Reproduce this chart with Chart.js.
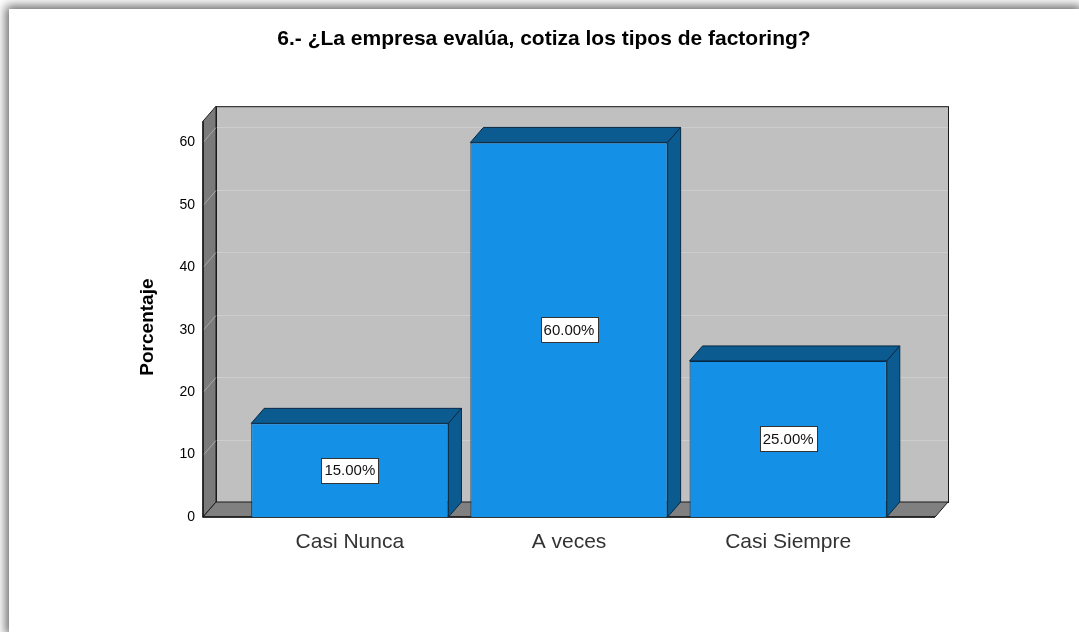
<!DOCTYPE html>
<html>
<head>
<meta charset="utf-8">
<script src="https://cdn.jsdelivr.net/npm/chart.js@4"></script>
<style>
  body { margin: 0; background: #fff; overflow: hidden; }
  #frame {
    position: absolute; left: 9px; top: 9px;
    width: 1070px; height: 623px;
    background: #fff;
    box-shadow: 0 0 10px 3px rgba(0,0,0,0.62);
  }
</style>
</head>
<body>
<div id="frame"><canvas id="factoringChart" width="1070" height="623"></canvas></div>
<script>

var categories = ['Casi Nunca', 'A veces', 'Casi Siempre'];
var percents = [15, 60, 25];
var yMax = 63.4;
var yStep = 10;
var yTitle = 'Porcentaje';

// 3d depth of walls and bars
var DX = 13, DY = -15;

var FONT = "'Liberation Sans', Arial, sans-serif";

var walls3d = {
  id: 'walls3d',
  beforeDatasetsDraw(chart) {
    var ctx = chart.ctx, a = chart.chartArea, y = chart.scales.y;
    ctx.save();
    ctx.lineWidth = 1;
    ctx.strokeStyle = '#1a1a1a';

    // back wall
    ctx.fillStyle = '#c0c0c0';
    ctx.fillRect(a.left + DX, a.top + DY, a.right - a.left, a.bottom - a.top);
    ctx.strokeRect(a.left + DX + 0.5, a.top + DY + 0.5, a.right - a.left, a.bottom - a.top);

    // left side wall
    ctx.fillStyle = '#7a7a7a';
    ctx.beginPath();
    ctx.moveTo(a.left, a.top);
    ctx.lineTo(a.left + DX, a.top + DY);
    ctx.lineTo(a.left + DX, a.bottom + DY);
    ctx.lineTo(a.left, a.bottom);
    ctx.closePath();
    ctx.fill();
    ctx.stroke();

    // grid lines on back and side walls
    y.ticks.forEach(function (t) {
      if (t.value <= 0) return;
      var py = Math.round(y.getPixelForValue(t.value)) + 0.5;
      ctx.strokeStyle = '#cdcdcd';
      ctx.beginPath();
      ctx.moveTo(a.left + DX + 1, py + DY);
      ctx.lineTo(a.right + DX, py + DY);
      ctx.stroke();
      ctx.strokeStyle = '#a8a8a8';
      ctx.beginPath();
      ctx.moveTo(a.left, py);
      ctx.lineTo(a.left + DX, py + DY);
      ctx.stroke();
    });

    // floor
    ctx.strokeStyle = '#1a1a1a';
    ctx.fillStyle = '#808080';
    ctx.beginPath();
    ctx.moveTo(a.left, a.bottom);
    ctx.lineTo(a.left + DX, a.bottom + DY);
    ctx.lineTo(a.right + DX, a.bottom + DY);
    ctx.lineTo(a.right, a.bottom);
    ctx.closePath();
    ctx.fill();
    ctx.stroke();

    // front axis lines
    ctx.lineWidth = 1.5;
    ctx.beginPath();
    ctx.moveTo(a.left, a.top);
    ctx.lineTo(a.left, a.bottom);
    ctx.lineTo(a.right, a.bottom);
    ctx.stroke();
    ctx.restore();
  },
  afterDatasetsDraw(chart) {
    var ctx = chart.ctx;
    var meta = chart.getDatasetMeta(0);
    ctx.save();
    meta.data.forEach(function (bar, i) {
      var p = bar.getProps(['x', 'y', 'base', 'width'], true);
      var l = p.x - p.width / 2, r = p.x + p.width / 2;
      ctx.fillStyle = '#0b5a90';
      ctx.strokeStyle = '#0a2a44';
      ctx.lineWidth = 1;
      // top face
      ctx.beginPath();
      ctx.moveTo(l, p.y);
      ctx.lineTo(l + DX, p.y + DY);
      ctx.lineTo(r + DX, p.y + DY);
      ctx.lineTo(r, p.y);
      ctx.closePath();
      ctx.fill();
      ctx.stroke();
      // side face
      ctx.beginPath();
      ctx.moveTo(r, p.y);
      ctx.lineTo(r + DX, p.y + DY);
      ctx.lineTo(r + DX, p.base + DY);
      ctx.lineTo(r, p.base);
      ctx.closePath();
      ctx.fill();
      ctx.stroke();

      // value label
      var txt = percents[i].toFixed(2) + '%';
      ctx.font = '15px ' + FONT;
      var w = Math.round(ctx.measureText(txt).width + 6), h = 25;
      var cy = (p.y + p.base) / 2;
      var bx = Math.round(p.x - w / 2) + 0.5, by = Math.round(cy - h / 2) + 0.5;
      ctx.fillStyle = '#ffffff';
      ctx.fillRect(bx, by, w, h);
      ctx.strokeStyle = '#333333';
      ctx.strokeRect(bx, by, w, h);
      ctx.fillStyle = '#111111';
      ctx.textAlign = 'center';
      ctx.textBaseline = 'middle';
      ctx.fillText(txt, p.x, cy + 1);
    });
    ctx.restore();
  },
  afterDraw(chart) {
    // rotated axis title, left of the side wall
    var ctx = chart.ctx, a = chart.chartArea;
    ctx.save();
    ctx.translate(a.left - 55, (a.top + a.bottom) / 2 + 8);
    ctx.rotate(-Math.PI / 2);
    ctx.font = 'bold 19px ' + FONT;
    ctx.fillStyle = '#000';
    ctx.textAlign = 'center';
    ctx.textBaseline = 'middle';
    ctx.fillText(yTitle, 0, 0);
    ctx.restore();
  }
};

new Chart('factoringChart', {
  type: 'bar',
  data: {
    datasets: [{
      data: percents.map(function (v, i) { return { x: i, y: v }; }),
      backgroundColor: '#1490e6',
      borderColor: '#0a2a44',
      borderWidth: 1,
      barPercentage: 0.9,
      categoryPercentage: 1
    }]
  },
  options: {
    responsive: false,
    animation: false,
    layout: { padding: 0 },
    plugins: {
      legend: { display: false },
      tooltip: { enabled: false },
      title: {
        display: true,
        text: '6.- ¿La empresa evalúa, cotiza los tipos de factoring?',
        color: '#000',
        font: { family: FONT, size: 21, weight: 'bold' },
        padding: { top: 18, bottom: 69 }
      }
    },
    scales: {
      x: {
        type: 'linear',
        offset: false,
        min: -0.67,
        max: 2.67,
        grid: { display: false, drawTicks: false },
        border: { display: false },
        afterBuildTicks: function (s) {
          s.ticks = categories.map(function (c, i) { return { value: i }; });
        },
        afterFit: function (s) { s.height = 115; },
        ticks: {
          padding: 13,
          color: '#333',
          font: { family: FONT, size: 21 },
          callback: function (v) { return categories[v]; }
        }
      },
      y: {
        min: 0,
        max: yMax,
        grid: { display: false, drawTicks: false },
        border: { display: false },
        afterFit: function (s) { s.width = 194; },
        ticks: {
          stepSize: yStep,
          includeBounds: false,
          padding: 8,
          color: '#000',
          font: { family: FONT, size: 14 }
        }
      },
      // empty right axis keeps room beside the plot
      yRight: {
        position: 'right',
        grid: { display: false, drawTicks: false },
        border: { display: false },
        ticks: { display: false },
        afterFit: function (s) { s.width = 144; }
      }
    }
  },
  plugins: [walls3d]
});
</script>
</body>
</html>
